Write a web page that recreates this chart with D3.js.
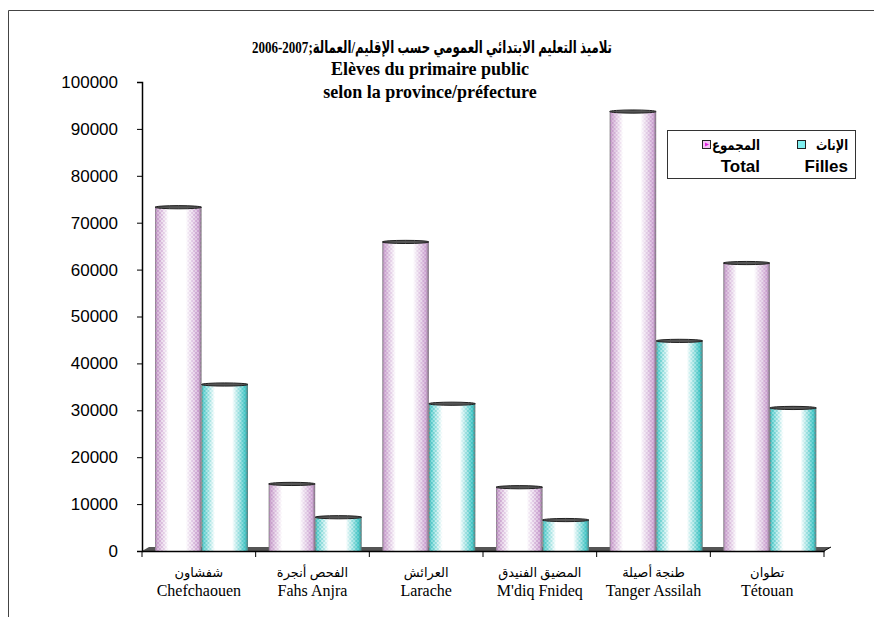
<!DOCTYPE html>
<html>
<head>
<meta charset="utf-8">
<script src="https://cdn.jsdelivr.net/npm/d3@7"></script>
<style>
  body { margin: 0; background: #fff; }
  svg { display: block; }
</style>
</head>
<body>
<div id="chart"></div>
<script>
// Data
const categoriesAr = ["شفشاون", "الفحص أنجرة", "العرائش", "المضيق الفنيدق", "طنجة أصيلة", "تطوان"];
const categoriesFr = ["Chefchaouen", "Fahs Anjra", "Larache", "M'diq Fnideq", "Tanger Assilah", "Tétouan"];
const totalValues = [73300, 14300, 65900, 13600, 93700, 61400];
const fillesValues = [35500, 7200, 31400, 6600, 44800, 30500];
const yTicks = [0, 10000, 20000, 30000, 40000, 50000, 60000, 70000, 80000, 90000, 100000];
const titleAr = "تلاميذ التعليم الابتدائي العمومي حسب الإقليم/العمالة;\u20662006-2007\u2069";
const titleFr = ["Elèves du primaire public", "selon la province/préfecture"];

const W = 874, H = 617;
const serif = "'Liberation Serif', 'Times New Roman', 'DejaVu Sans', serif";
const sans = "'Liberation Sans', Arial, 'DejaVu Sans', sans-serif";

const svg = d3.select("#chart").append("svg")
    .attr("width", W)
    .attr("height", H);

// outer frame (only left and top visible)
svg.append("path")
    .attr("d", `M8.5,${H} V10.5 H${W}`)
    .attr("fill", "none")
    .attr("stroke", "#444")
    .attr("stroke-width", 1);

const x = d3.scaleBand()
    .domain(categoriesFr)
    .range([142, 824]);

const y = d3.scaleLinear()
    .domain([0, 100000])
    .range([551, 82]);

const sub = d3.scaleBand()
    .domain(["total", "filles"])
    .range([13, 106]);

// gradients / patterns
const defs = svg.append("defs");

function cylGradient(id, left, right) {
    const g = defs.append("linearGradient")
        .attr("id", id)
        .attr("x1", "0%").attr("x2", "100%")
        .attr("y1", "0%").attr("y2", "0%");
    [[0, "#7a7a7a"], [4, left], [14, d3.interpolateRgb(left, "#fff")(0.55)], [28, "#fff"],
     [66, "#fff"], [82, d3.interpolateRgb(right, "#fff")(0.55)], [94, right], [100, "#6a6a6a"]]
        .forEach(s => g.append("stop").attr("offset", s[0] + "%").attr("stop-color", s[1]));
}
cylGradient("grad-total", "#d4b4d6", "#d8b8dc");
cylGradient("grad-filles", "#7ad8d8", "#5ccece");

function dots(id, color) {
    const p = defs.append("pattern")
        .attr("id", id)
        .attr("width", 4).attr("height", 4)
        .attr("patternUnits", "userSpaceOnUse");
    p.append("circle").attr("cx", 1).attr("cy", 1).attr("r", 0.9).attr("fill", color);
    p.append("circle").attr("cx", 3).attr("cy", 3).attr("r", 0.9).attr("fill", color);
}
dots("dots-total", "#b47cbc");
dots("dots-filles", "#1cb4b4");

const mg = defs.append("linearGradient")
    .attr("id", "edge-grad")
    .attr("x1", "0%").attr("x2", "100%");
[[0, 0.8], [16, 0.45], [30, 0], [66, 0], [82, 0.45], [100, 0.8]]
    .forEach(s => mg.append("stop").attr("offset", s[0] + "%").attr("stop-color", "#fff").attr("stop-opacity", s[1]));
defs.append("mask")
    .attr("id", "edge-mask")
    .attr("maskContentUnits", "objectBoundingBox")
    .append("rect")
    .attr("width", 1).attr("height", 1)
    .attr("fill", "url(#edge-grad)");

// floor
svg.append("path")
    .attr("d", `M${x.range()[0]},${y(0)} L${x.range()[1]},${y(0)} L${x.range()[1] + 7},${y(0) - 4} L${x.range()[0] + 7},${y(0) - 4} Z`)
    .attr("fill", "#555");

// bars
const rows = categoriesFr.map((c, i) => [
    { cat: c, key: "total", value: totalValues[i] },
    { cat: c, key: "filles", value: fillesValues[i] }
]).flat();

const bar = svg.append("g").selectAll("g")
    .data(rows)
    .enter()
    .append("g")
    .attr("transform", d => `translate(${x(d.cat) + sub(d.key)},0)`);

bar.append("rect")
    .attr("y", d => y(d.value))
    .attr("width", sub.bandwidth())
    .attr("height", d => y(0) - y(d.value))
    .attr("fill", d => `url(#grad-${d.key})`);

bar.append("rect")
    .attr("y", d => y(d.value))
    .attr("width", sub.bandwidth())
    .attr("height", d => y(0) - y(d.value))
    .attr("fill", d => `url(#dots-${d.key})`)
    .attr("mask", "url(#edge-mask)");

bar.append("ellipse")
    .attr("cx", sub.bandwidth() / 2)
    .attr("cy", d => y(d.value))
    .attr("rx", sub.bandwidth() / 2)
    .attr("ry", 1.6)
    .attr("fill", "#555")
    .attr("stroke", "#222")
    .attr("stroke-width", 1);

// y axis
svg.append("g")
    .attr("transform", `translate(${x.range()[0]},0)`)
    .call(d3.axisLeft(y).tickValues(yTicks).tickSize(5).tickPadding(19).tickFormat(d3.format("d")))
    .call(g => g.select(".domain").attr("stroke", "#000").attr("stroke-width", 1.5))
    .call(g => g.selectAll(".tick line").attr("stroke", "#000"))
    .call(g => g.selectAll("text")
        .style("font-family", sans)
        .style("font-size", "17px")
        .attr("fill", "#000"));

// x axis
svg.append("g")
    .attr("transform", `translate(0,${y(0)})`)
    .call(d3.axisBottom(x).tickSize(0).tickFormat(""))
    .call(g => g.select(".domain").attr("stroke", "#000").attr("stroke-width", 1.5))
    .call(g => g.selectAll(".tick line").remove());

svg.append("g").selectAll("line")
    .data(categoriesFr.concat(["end"]))
    .enter()
    .append("line")
    .attr("x1", d => d === "end" ? x.range()[1] : x(d))
    .attr("x2", d => d === "end" ? x.range()[1] : x(d))
    .attr("y1", y(0))
    .attr("y2", y(0) + 6)
    .attr("stroke", "#000");

svg.append("line")
    .attr("x1", x.range()[1]).attr("y1", y(0))
    .attr("x2", x.range()[1] + 7).attr("y2", y(0) - 4)
    .attr("stroke", "#000");

// category labels
const lab = svg.append("g").selectAll("g")
    .data(categoriesFr)
    .enter()
    .append("g")
    .attr("transform", d => `translate(${x(d) + x.bandwidth() / 2},0)`)
    .style("font-family", serif)
    .attr("text-anchor", "middle");

lab.append("text")
    .attr("y", 577)
    .style("font-size", "13px")
    .text((d, i) => categoriesAr[i]);

lab.append("text")
    .attr("y", 596)
    .style("font-size", "16px")
    .text(d => d);

// title
svg.append("text")
    .attr("x", 432)
    .attr("y", 53)
    .attr("text-anchor", "middle")
    .attr("direction", "rtl")
    .attr("textLength", 360)
    .attr("lengthAdjust", "spacingAndGlyphs")
    .style("font-family", "'Liberation Serif', 'DejaVu Sans Condensed', 'DejaVu Sans', serif")
    .style("font-weight", "bold")
    .style("font-size", "17px")
    .text(titleAr);

svg.append("g").selectAll("text")
    .data(titleFr)
    .enter()
    .append("text")
    .attr("x", 430)
    .attr("y", (d, i) => 75 + i * 23)
    .attr("text-anchor", "middle")
    .style("font-family", serif)
    .style("font-weight", "bold")
    .style("font-size", "18px")
    .text(d => d);

// legend
const legend = svg.append("g");
legend.append("rect")
    .attr("x", 667.5).attr("y", 130.5)
    .attr("width", 188).attr("height", 48)
    .attr("fill", "#fff")
    .attr("stroke", "#333");

const legendItems = [
    { ar: "المجموع", fr: "Total", right: 760, len: 48, mark: 702, fill: "#f4c4f4", inner: "#e020e0" },
    { ar: "الإناث", fr: "Filles", right: 848, len: 32, mark: 797, fill: "#80f0f0", inner: null }
];

legendItems.forEach(it => {
    legend.append("rect")
        .attr("x", it.mark + 0.5).attr("y", 140.5)
        .attr("width", 8).attr("height", 8)
        .attr("fill", it.fill)
        .attr("stroke", "#222");
    if (it.inner) {
        legend.append("path")
            .attr("d", `M${it.mark + 3},${142.5} L${it.mark + 7},${144.5} L${it.mark + 3},${146.5} Z`)
            .attr("fill", it.inner);
    }
    legend.append("text")
        .attr("x", it.right).attr("y", 150)
        .attr("text-anchor", "end")
        .attr("textLength", it.len)
        .attr("lengthAdjust", "spacingAndGlyphs")
        .style("font-family", sans)
        .style("font-weight", "bold")
        .style("font-size", "14px")
        .text(it.ar);
    legend.append("text")
        .attr("x", it.right).attr("y", 172)
        .attr("text-anchor", "end")
        .style("font-family", sans)
        .style("font-weight", "bold")
        .style("font-size", "17px")
        .text(it.fr);
});
</script>
</body>
</html>
